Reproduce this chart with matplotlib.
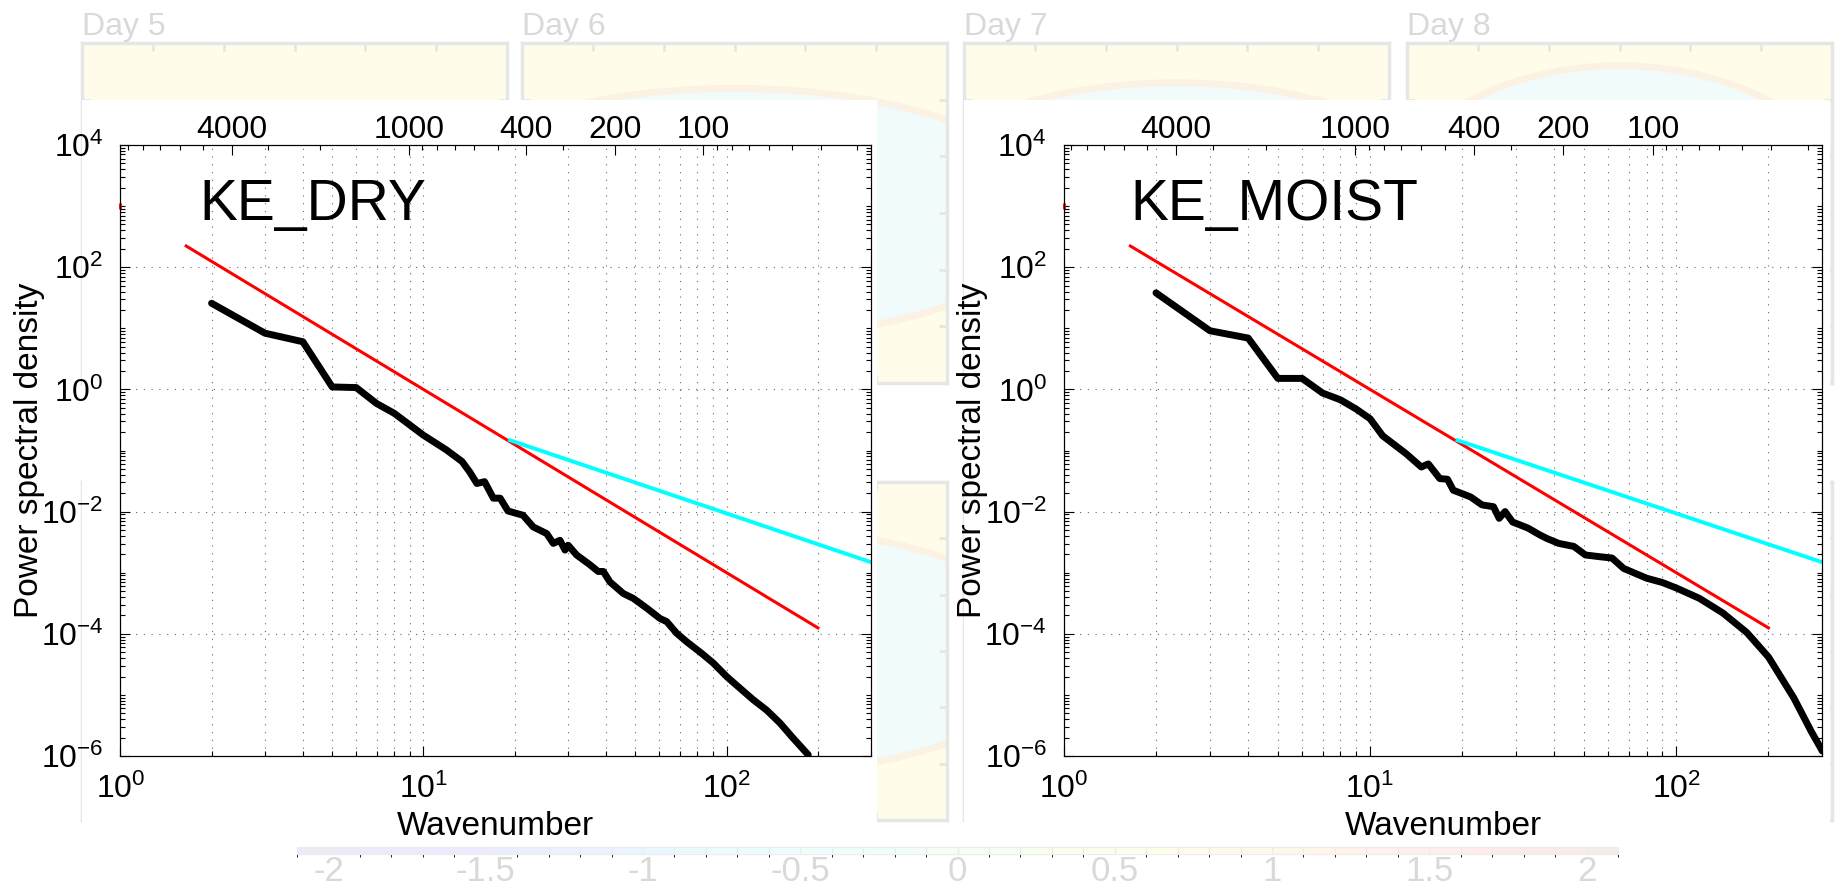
import matplotlib
matplotlib.use("Agg")
import matplotlib.pyplot as plt
import numpy as np
from matplotlib.cm import ScalarMappable
from matplotlib.colors import BoundaryNorm, ListedColormap
from matplotlib.patches import Ellipse, Rectangle
from matplotlib.ticker import LogLocator, NullFormatter

plt.rcParams["font.family"] = ["Liberation Sans", "DejaVu Sans"]
plt.rcParams["mathtext.fontset"] = "custom"
plt.rcParams["mathtext.rm"] = "Liberation Sans"
plt.rcParams["mathtext.it"] = "Liberation Sans:italic"
plt.rcParams["mathtext.bf"] = "Liberation Sans:bold"

# kinetic energy spectra, stored as log10 of the power spectral density
dry_k = [2, 3, 4, 5, 6, 7, 8, 9, 10,
         11.9, 13.4, 14.2, 15.0, 15.9, 17.0, 17.9, 19.0,
         21.3, 23.0, 25.5, 26.8, 28.2, 29.3, 30.0, 32.0,
         35.4, 37.7, 39.2, 41.2, 45.6, 49.2, 51.8, 54.5,
         60.3, 63.4, 68.4, 73.8, 82.7, 90.4, 100,
         110.6, 122.4, 135.5, 149.9, 165.8, 185.8]
dry_log_psd = [1.41, 0.92, 0.78, 0.04, 0.03, -0.23, -0.39, -0.58, -0.75,
               -0.99, -1.18, -1.35, -1.54, -1.51, -1.78, -1.78, -1.99,
               -2.06, -2.25, -2.36, -2.52, -2.47, -2.63, -2.55, -2.71,
               -2.87, -2.98, -2.98, -3.15, -3.34, -3.42, -3.50, -3.58,
               -3.75, -3.80, -3.99, -4.13, -4.32, -4.48, -4.70,
               -4.89, -5.08, -5.25, -5.46, -5.71, -5.98]

moist_k = [2, 3, 4, 5, 6, 7, 8, 9, 10, 11,
           13.1, 14.7, 15.5, 16.9, 17.9, 18.7,
           21.3, 23.2, 25.3, 26.4, 27.6, 29.2,
           32.8, 35.8, 37.8, 41.3, 46.3, 50.5,
           56.6, 61.7, 67.3, 80, 90, 100, 119,
           142, 170, 200, 242, 276, 300]
moist_log_psd = [1.58, 0.96, 0.84, 0.18, 0.18, -0.06, -0.17, -0.32, -0.48, -0.76,
                 -1.05, -1.27, -1.22, -1.46, -1.47, -1.65,
                 -1.76, -1.89, -1.92, -2.11, -2.00, -2.17,
                 -2.27, -2.38, -2.44, -2.52, -2.57, -2.71,
                 -2.74, -2.76, -2.93, -3.09, -3.16, -3.25, -3.42,
                 -3.66, -3.98, -4.38, -5.05, -5.60, -5.92]

# reference slopes: k^-3 (red) and k^-5/3 (cyan)
slope3_k = [1.65, 200]
slope3_psd = [222, 1.25e-4]
slope53_k = [19.3, 300]
slope53_psd = [0.147, 1.48e-3]
slope3_at_k1 = (1, 1e3)

wavelength_ticks = [4000, 1000, 400, 200, 100]
wavelength_lim = (9550, 26.9)

panel_names = ["KE_DRY", "KE_MOIST"]
day_titles = ["Day 5", "Day 6", "Day 7", "Day 8"]
cbar_ticks = [-2, -1.5, -1, -0.5, 0, 0.5, 1, 1.5, 2]
cbar_labels = ["-2", "-1.5", "-1", "-0.5", "0", "0.5", "1", "1.5", "2"]

W, H = 1835, 891
FAINT = "#d9d9d9"


def box(x0, y0, x1, y1):
    """Pixel box (top-left origin) -> figure fraction rect."""
    return [x0 / W, 1 - y1 / H, (x1 - x0) / W, (y1 - y0) / H]


fig = plt.figure(figsize=(W / 100, H / 100), dpi=100)

# faded map panels sitting behind the spectra
panel_cols = [(82, 507), (522, 947), (964, 1389), (1407, 1832)]
panel_rows = [(43, 383), (482, 820)]
vortex = [(9.0, 3.8), (9.0, 4.4), (8.0, 4.6), (6.5, 5.2)]
for y0, y1 in panel_rows:
    for (x0, x1), (ew, eh) in zip(panel_cols, vortex):
        pax = fig.add_axes(box(x0, y0, x1, y1), zorder=0)
        pax.set_facecolor("#fffdea")
        pax.set_xlim(0, 6)
        pax.set_ylim(0, 6)
        pax.set_xticks(range(1, 6))
        pax.set_yticks(range(1, 6))
        pax.tick_params(direction="in", length=6, width=2, colors="#e6e6e6",
                        top=True, right=True, labelleft=False, labelbottom=False)
        for s in pax.spines.values():
            s.set_color("#e6e6e6")
            s.set_linewidth(2.5)
        pax.add_patch(Ellipse((3.0, 3.0), ew, eh, fc="#f1fbfb", ec="#fcf2e4", lw=5))

for (x0, _), title in zip(panel_cols, day_titles):
    fig.text(x0 / W, 1 - 35 / H, title, fontsize=23, color=FAINT, va="baseline")

# faded colour scale under the panels
cax = fig.add_axes(box(297, 847, 1618, 854), zorder=0)
bounds = np.linspace(-2.1, 2.1, 43)
mids = 0.5 * (bounds[:-1] + bounds[1:])
jet = plt.get_cmap("jet")((mids + 2.1) / 4.2)[:, :3]
cmap = ListedColormap(1 - 0.08 * (1 - jet))
cb = fig.colorbar(ScalarMappable(norm=BoundaryNorm(bounds, cmap.N), cmap=cmap),
                  cax=cax, orientation="horizontal", ticks=cbar_ticks, drawedges=True)
cb.dividers.set_color("#ececec")
cb.dividers.set_linewidth(1)
cb.outline.set_edgecolor("#ececec")
cax.set_xticklabels(cbar_labels, fontsize=25, color=FAINT)
cax.tick_params(length=0, pad=1)

# white backing of the two spectrum plots
for x0, y0, x1, y1 in [(82, 100, 877, 840), (964, 100, 1830, 840)]:
    fig.add_artist(Rectangle((x0 / W, 1 - y1 / H), (x1 - x0) / W, (y1 - y0) / H,
                             transform=fig.transFigure, fc="white", ec="none", zorder=1))


def spectrum_panel(rect, k, log_psd, name, name_x):
    ax = fig.add_axes(box(*rect), zorder=2)
    ax.plot(k, 10 ** np.asarray(log_psd), color="black", lw=5.0,
            solid_joinstyle="round", solid_capstyle="round")
    ax.plot(slope3_k, slope3_psd, color="red", lw=2.2)
    ax.plot(slope53_k, slope53_psd, color="cyan", lw=2.8)
    ax.plot(*slope3_at_k1, marker="|", color="red", ms=4, mew=2, clip_on=False)

    ax.set_xscale("log")
    ax.set_yscale("log")
    ax.set_xlim(1, 300)
    ax.set_ylim(1e-6, 1e4)
    ax.set_xticks([1, 10, 100], [r"$10^{0}$", r"$10^{1}$", r"$10^{2}$"])
    ax.xaxis.set_minor_locator(LogLocator(base=10, subs=np.arange(2, 10), numticks=50))
    ax.xaxis.set_minor_formatter(NullFormatter())
    yt = [1e-6, 1e-4, 1e-2, 1e0, 1e2, 1e4]
    ax.set_yticks(yt, [rf"$10^{{{int(np.log10(v))}}}$" for v in yt])
    ax.yaxis.set_minor_locator(LogLocator(base=10, subs=np.arange(1, 10), numticks=50))
    ax.yaxis.set_minor_formatter(NullFormatter())

    grid_kw = dict(color="0.4", ls=(0, (1, 6)), lw=0.8)
    ax.grid(True, which="major", axis="both", **grid_kw)
    ax.grid(True, which="minor", axis="x", **grid_kw)
    ax.tick_params(which="both", direction="in", top=True, right=True, width=0.8)
    ax.tick_params(which="major", length=7)
    ax.tick_params(which="minor", length=3.5)
    ax.tick_params(axis="x", labelsize=23, pad=13)
    ax.tick_params(axis="y", labelsize=23, pad=12)
    for s in ax.spines.values():
        s.set_linewidth(0.8)

    ax.set_xlabel("Wavenumber", fontsize=24, labelpad=4)
    ax.set_ylabel("Power spectral density", fontsize=24)
    ax.yaxis.set_label_coords(-0.10, 0.5)
    ax.text(name_x, 0.877, name, transform=ax.transAxes, fontsize=41, va="baseline")

    # wavelength (km) along the top
    tax = ax.twiny()
    tax.set_xscale("log")
    tax.set_xlim(*wavelength_lim)
    tax.set_xticks(wavelength_ticks, [str(v) for v in wavelength_ticks])
    tax.xaxis.set_minor_locator(LogLocator(base=10, subs=np.arange(2, 10), numticks=50))
    tax.xaxis.set_minor_formatter(NullFormatter())
    tax.tick_params(which="both", direction="in", width=0.8, labelsize=23, pad=0)
    tax.tick_params(which="major", length=7)
    tax.tick_params(which="minor", length=3.5)
    for s in tax.spines.values():
        s.set_linewidth(0.8)
    return ax


spectrum_panel((120.3, 145, 871.3, 756), dry_k, dry_log_psd, panel_names[0], 0.1055)
spectrum_panel((1063.8, 145, 1822.4, 756), moist_k, moist_log_psd, panel_names[1], 0.0874)

fig.savefig("out.png", dpi=100)
plt.close(fig)
